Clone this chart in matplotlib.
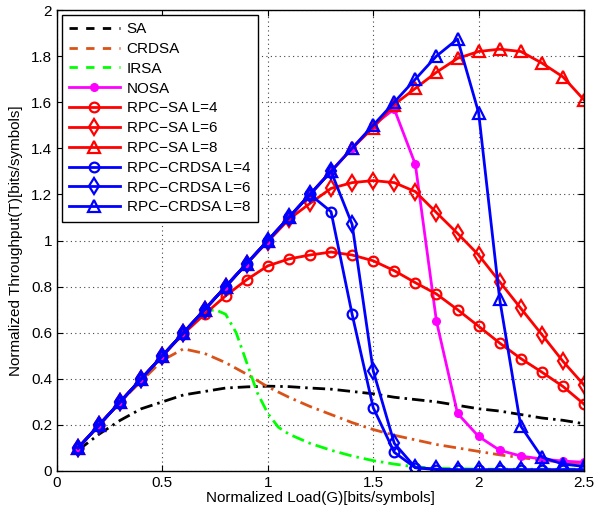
import matplotlib
matplotlib.use("Agg")
import matplotlib.pyplot as plt
from matplotlib.lines import Line2D

plt.rcParams['font.family'] = ['Liberation Sans', 'DejaVu Sans']

load = [0.1, 0.2, 0.3, 0.4, 0.5, 0.6, 0.7, 0.8, 0.9, 1.0,
        1.1, 1.2, 1.3, 1.4, 1.5, 1.6, 1.7, 1.8, 1.9, 2.0,
        2.1, 2.2, 2.3, 2.4, 2.5]

sa = [0.09, 0.16, 0.22, 0.27, 0.30, 0.33, 0.345, 0.36, 0.365, 0.368,
      0.366, 0.36, 0.355, 0.345, 0.335, 0.32, 0.31, 0.30, 0.285, 0.27,
      0.26, 0.245, 0.23, 0.22, 0.205]

crdsa = [0.1, 0.2, 0.3, 0.39, 0.48, 0.53, 0.51, 0.47, 0.42, 0.365,
         0.32, 0.28, 0.245, 0.21, 0.18, 0.155, 0.135, 0.115, 0.10, 0.085,
         0.07, 0.058, 0.047, 0.038, 0.032]

irsa_load = [0.1, 0.2, 0.3, 0.4, 0.5, 0.6, 0.7, 0.75, 0.8, 0.85, 0.9, 0.95,
             1.0, 1.05, 1.1, 1.2, 1.3, 1.4, 1.5, 1.6, 1.7, 1.8, 1.9, 2.0,
             2.1, 2.2, 2.3, 2.4, 2.5]
irsa = [0.1, 0.2, 0.3, 0.4, 0.5, 0.6, 0.69, 0.70, 0.68, 0.60, 0.47, 0.34,
        0.25, 0.19, 0.16, 0.12, 0.09, 0.065, 0.045, 0.03, 0.018, 0.012, 0.01, 0.008,
        0.008, 0.008, 0.008, 0.008, 0.008]

nosa = [0.1, 0.2, 0.3, 0.4, 0.5, 0.6, 0.7, 0.8, 0.9, 1.0,
        1.1, 1.2, 1.3, 1.4, 1.5, 1.57, 1.33, 0.65, 0.25, 0.15,
        0.09, 0.065, 0.052, 0.043, 0.038]

rpc_sa_4 = [0.1, 0.2, 0.3, 0.4, 0.5, 0.595, 0.68, 0.76, 0.83, 0.89,
            0.92, 0.937, 0.95, 0.937, 0.912, 0.869, 0.817, 0.768, 0.70, 0.628,
            0.555, 0.488, 0.429, 0.367, 0.29]

rpc_sa_6 = [0.1, 0.2, 0.3, 0.4, 0.5, 0.6, 0.7, 0.8, 0.9, 0.995,
            1.092, 1.161, 1.226, 1.251, 1.26, 1.251, 1.212, 1.121, 1.031, 0.937,
            0.821, 0.706, 0.592, 0.476, 0.373]

rpc_sa_8 = [0.1, 0.2, 0.3, 0.4, 0.5, 0.6, 0.7, 0.8, 0.9, 1.0,
            1.1, 1.2, 1.3, 1.4, 1.49, 1.59, 1.66, 1.73, 1.79, 1.82,
            1.83, 1.82, 1.77, 1.71, 1.61]

rpc_crdsa_4 = [0.1, 0.2, 0.3, 0.4, 0.5, 0.6, 0.7, 0.8, 0.9, 1.0,
               1.1, 1.2, 1.125, 0.68, 0.275, 0.081, 0.014, 0.006, 0.005, 0.005,
               0.005, 0.005, 0.005, 0.005, 0.005]

rpc_crdsa_6 = [0.1, 0.2, 0.3, 0.4, 0.5, 0.6, 0.7, 0.8, 0.9, 1.0,
               1.1, 1.2, 1.3, 1.07, 0.435, 0.12, 0.015, 0.008, 0.005, 0.005,
               0.005, 0.005, 0.005, 0.005, 0.005]

rpc_crdsa_8 = [0.1, 0.2, 0.3, 0.4, 0.5, 0.6, 0.7, 0.8, 0.9, 1.0,
               1.1, 1.2, 1.3, 1.4, 1.5, 1.6, 1.7, 1.8, 1.874, 1.555,
               0.745, 0.195, 0.06, 0.03, 0.02]

labels = ["SA", "CRDSA", "IRSA", "NOSA",
          "RPC\u2212SA L=4", "RPC\u2212SA L=6", "RPC\u2212SA L=8",
          "RPC\u2212CRDSA L=4", "RPC\u2212CRDSA L=6", "RPC\u2212CRDSA L=8"]

ORANGE = '#D95319'
fig = plt.figure(figsize=(5.94, 5.12), dpi=100)
ax = fig.add_axes([57/594, 41/512, 527/594, 461/512])

lw = 2.0
mew = 1.6
ms_o, ms_d, ms_t = 7, 8.5, 8.5
dd = (0, (4.5, 1.8, 0.9, 1.8))
ax.plot(load, sa, color='black', lw=lw, linestyle=dd)
ax.plot(load, crdsa, color=ORANGE, lw=lw, linestyle=dd)
ax.plot(irsa_load, irsa, color='#00FF00', lw=lw, linestyle=dd)

ax.plot(load, nosa, color='#FF00FF', lw=lw, marker='o', ms=5.5, mfc='#FF00FF', mec='#FF00FF')
ax.plot(load, rpc_sa_4, color='red', lw=lw, marker='o', ms=ms_o, mfc='none', mew=mew)
ax.plot(load, rpc_sa_6, color='red', lw=lw, marker='d', ms=ms_d, mfc='none', mew=mew)
ax.plot(load, rpc_sa_8, color='red', lw=lw, marker='^', ms=ms_t, mfc='none', mew=mew)
ax.plot(load, rpc_crdsa_4, color='blue', lw=lw, marker='o', ms=ms_o, mfc='none', mew=mew)
ax.plot(load, rpc_crdsa_6, color='blue', lw=lw, marker='d', ms=ms_d, mfc='none', mew=mew)
ax.plot(load, rpc_crdsa_8, color='blue', lw=lw, marker='^', ms=ms_t, mfc='none', mew=mew)

ax.set_xlim(0, 2.5)
ax.set_ylim(0, 2)
ax.set_xticks([0, 0.5, 1, 1.5, 2, 2.5])
ax.set_xticklabels(['0', '0.5', '1', '1.5', '2', '2.5'])
ax.set_yticks([0, 0.2, 0.4, 0.6, 0.8, 1.0, 1.2, 1.4, 1.6, 1.8, 2.0])
ax.set_yticklabels(['0', '0.2', '0.4', '0.6', '0.8', '1', '1.2', '1.4', '1.6', '1.8', '2'])
ax.tick_params(direction='in', labelsize=11, length=4, top=True, right=True, width=0.8)
ax.grid(True, linestyle=(0, (1, 3)), color='#444444', linewidth=0.8)
for s in ax.spines.values():
    s.set_linewidth(1.0)

ax.set_xlabel('Normalized Load(G)[bits/symbols]', fontsize=11, labelpad=1)
ax.set_ylabel('Normalized Throughput(T)[bits/symbols]', fontsize=11, labelpad=6)

dash = (0, (3.0, 3.0))
handles = [
    Line2D([], [], color='black', lw=lw, linestyle=dash),
    Line2D([], [], color=ORANGE, lw=lw, linestyle=dash),
    Line2D([], [], color='#00FF00', lw=lw, linestyle=dash),
    Line2D([], [], color='#FF00FF', lw=lw, marker='o', ms=5.5),
    Line2D([], [], color='red', lw=lw, marker='o', ms=ms_o, mfc='none', mew=mew),
    Line2D([], [], color='red', lw=lw, marker='d', ms=ms_d, mfc='none', mew=mew),
    Line2D([], [], color='red', lw=lw, marker='^', ms=ms_t, mfc='none', mew=mew),
    Line2D([], [], color='blue', lw=lw, marker='o', ms=ms_o, mfc='none', mew=mew),
    Line2D([], [], color='blue', lw=lw, marker='d', ms=ms_d, mfc='none', mew=mew),
    Line2D([], [], color='blue', lw=lw, marker='^', ms=ms_t, mfc='none', mew=mew),
]
leg = ax.legend(handles, labels, loc='upper left', fontsize=11, frameon=True,
                fancybox=False, framealpha=1, edgecolor='black',
                handlelength=3.3, handletextpad=0.45, labelspacing=0.38,
                borderpad=0.5, borderaxespad=0.3)
leg.get_frame().set_linewidth(1.0)

fig.savefig('out.png', dpi=100)
